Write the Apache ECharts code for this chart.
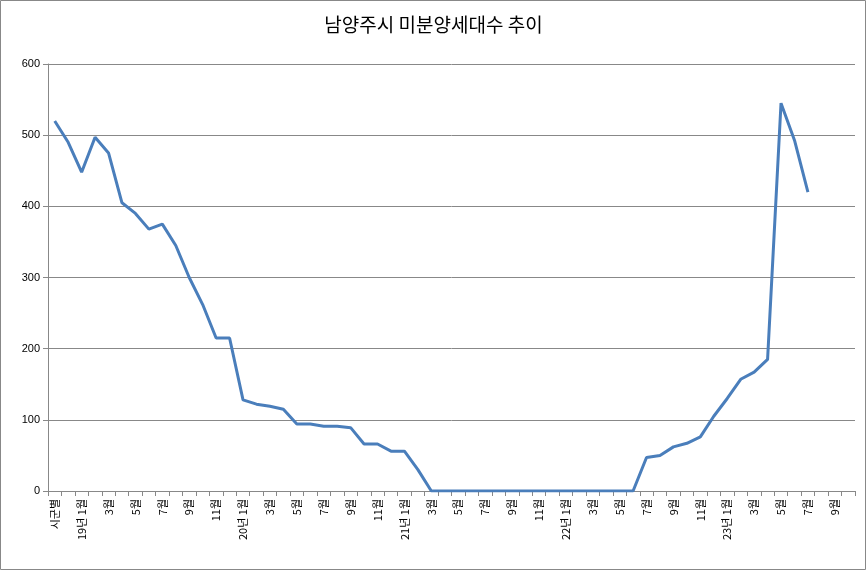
<!DOCTYPE html>
<html><head><meta charset="utf-8">
<script src="https://cdn.jsdelivr.net/npm/echarts@6/dist/echarts.min.js"></script>
<style>html,body{margin:0;padding:0;background:#fff}#c{width:867px;height:571px}</style>
</head><body><div id="c"></div>
<script>
const categories = ['시군별','18년 12월'];
for (const y of ['19','20','21','22']) for (let m=1;m<=12;m++) categories.push(m===1? y+'년 1월' : m+'월');
for (let m=1;m<=10;m++) categories.push(m===1? '23년 1월' : m+'월');
const values = [520,490,448,497,475,405,390,368,375,345,300,262,215,215,128,122,119,115,94,94,91,91,89,66,66,56,56,30,
0,0,0,0,0,0,0,0,0,0,0,0,0,0,0,0,
47,50,62,67,76,105,130,157,167,185,545,493,420];
const yTicks = {min:0,max:600,interval:100};
const chart = echarts.init(document.getElementById('c'));
chart.setOption({
  animation:false,
  graphic:[{type:'rect',shape:{x:0.5,y:0.5,width:865,height:569},style:{fill:'none',stroke:'#888',lineWidth:1}}],
  title:{text:'남양주시 미분양세대수 추이',left:'center',top:10,textStyle:{fontFamily:'Noto Sans CJK KR',fontSize:19,fontWeight:'normal',color:'#000'}},
  grid:{left:48,right:12,top:64,bottom:80},
  xAxis:{type:'category',data:categories,boundaryGap:true,
    axisLine:{lineStyle:{color:'#888'}},axisTick:{show:true,interval:0,lineStyle:{color:'#888'}},
    axisLabel:{interval:1,rotate:90,fontSize:11,color:'#000',fontFamily:'Noto Sans CJK KR',margin:8}},
  yAxis:{type:'value',...yTicks,axisLine:{show:true,lineStyle:{color:'#888'}},axisTick:{show:true,lineStyle:{color:'#888'}},
    splitLine:{lineStyle:{color:'#888'}},axisLabel:{fontSize:11,color:'#000',fontFamily:'Liberation Sans'}},
  series:[{type:'line',data:values,symbol:'none',lineStyle:{color:'#4a7ebb',width:3}}]
});
</script></body></html>
